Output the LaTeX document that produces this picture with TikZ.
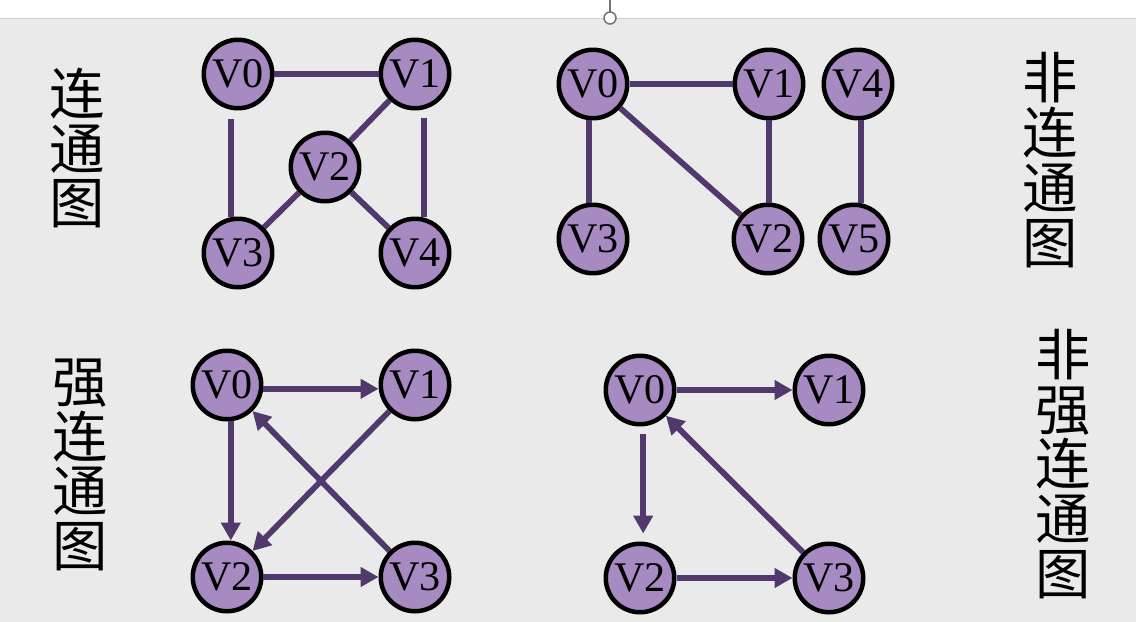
\documentclass[tikz,border=0pt]{standalone}
\usepackage{fontspec}
\setmainfont{Liberation Serif}
\newfontfamily\cjk{Noto Sans CJK SC}
\usetikzlibrary{arrows.meta,calc}
\definecolor{VertexLilac}{RGB}{166,138,193}
\definecolor{EdgePurple}{RGB}{81,57,110}
\definecolor{SlideGrey}{RGB}{234,234,234}

\begin{document}
\begin{tikzpicture}[x=0.02cm, y=-0.02cm,
    vtx/.style={circle, draw=black, line width=0.09cm, fill=VertexLilac, minimum size=1.37cm, inner sep=0pt, font=\fontsize{24}{24}\selectfont},
    edge/.style={draw=EdgePurple, line width=0.115cm},
    arc/.style={edge, -{Triangle[length=0.36cm,width=0.38cm]}},
    lbl/.style={align=center, font=\cjk\fontsize{31.5}{31.2}\selectfont}]
        \useasboundingbox (0,0) rectangle (1136,622);
        % Slide background
        \fill[SlideGrey] (0,18) rectangle (1136,622);
        \draw[black!18, line width=0.02cm] (0,18) -- (1136,18);
        \draw[black!55, line width=0.03cm] (610,0) -- (610,12);
        \draw[black!55, line width=0.03cm, fill=white] (610,18) circle (0.12cm);

        % Connected graph
        \node[vtx] (a0) at (238,74) {V0};
        \node[vtx] (a1) at (415,74) {V1};
        \node[vtx] (a2) at (325,167) {V2};
        \node[vtx] (a3) at (238,253) {V3};
        \node[vtx] (a4) at (415,253) {V4};
        \draw[edge] (a0) -- (a1);
        \draw[edge, shorten <=0.18cm] (a0.-101) -- (a0.-101 |- a3.north);
        \draw[edge, shorten <=0.18cm] (a1.-76) -- (a1.-76 |- a4.north);
        \draw[edge] (a1) -- (a2);
        \draw[edge] (a2) -- (a3);
        \draw[edge] (a2) -- (a4);
        \node[lbl] (t1) at (77,148) {连\\通\\图};

        % Non-connected graph
        \node[vtx] (b0) at (593,84) {V0};
        \node[vtx] (b1) at (769,84) {V1};
        \node[vtx] (b4) at (858,84) {V4};
        \node[vtx] (b3) at (593,239) {V3};
        \node[vtx] (b2) at (768,239) {V2};
        \node[vtx] (b5) at (854,239) {V5};
        \draw[edge] (b0) -- (b1);
        \draw[edge] (b0.-96) -- (b0.-96 |- b3.north);
        \draw[edge] (b1.south) -- (b1.south |- b2.north);
        \draw[edge] (b0) -- (b2);
        \draw[edge] (b4.-85) -- (b4.-85 |- b5.north);
        \node[lbl] (t2) at (1050,160) {非\\连\\通\\图};

        % Strongly connected graph
        \node[vtx] (c0) at (227,385) {V0};
        \node[vtx] (c1) at (415,385) {V1};
        \node[vtx] (c2) at (227,577) {V2};
        \node[vtx] (c3) at (415,577) {V3};
        \draw[arc] (c0.-6) -- (c0.-6 -| c1.west);
        \draw[arc] (c0.-84) -- (c0.-84 |- c2.north);
        \draw[arc] (c1) -- (c2);
        \draw[arc] (c3) -- (c0);
        \draw[arc] (c2) -- (c3);
        \node[lbl] (t3) at (80,465) {强\\连\\通\\图};

        % Not strongly connected graph
        \node[vtx] (d0) at (640,390) {V0};
        \node[vtx] (d1) at (829,390) {V1};
        \node[vtx] (d2) at (640,578) {V2};
        \node[vtx] (d3) at (829,578) {V3};
        \draw[arc] (d0) -- (d1);
        \draw[arc, shorten <=0.16cm, shorten >=0.16cm] (d0.-85) -- (d0.-85 |- d2.north);
        \draw[arc] (d3) -- (d0);
        \draw[arc] (d2) -- (d3);
        \node[lbl] (t4) at (1063,464) {非\\强\\连\\通\\图};
    \end{tikzpicture}
\end{document}
